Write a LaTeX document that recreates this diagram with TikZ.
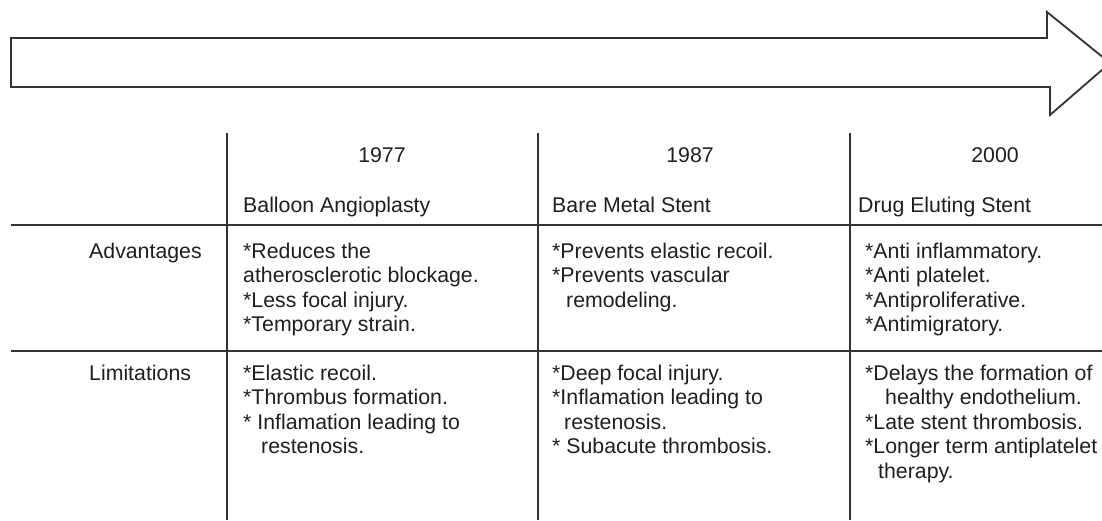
\documentclass[tikz,border=0pt]{standalone}
\usepackage{fontspec}
\setmainfont{Liberation Sans}
\tikzset{
  txt/.style={inner sep=0pt, anchor=base west, font=\fontsize{21.3}{24.6}\selectfont, text=black!88},
  ctr/.style={txt, anchor=base},
  rulebar/.style={line width=2pt, draw=black!80},
  bigarrow/.style={line width=1.8pt, draw=black!80, line join=miter, fill=white}
}
\begin{document}
\begin{tikzpicture}[x=1pt,y=-1pt]
\useasboundingbox (0,0) rectangle (1102,520);
\clip (0,0) rectangle (1102,520);
% timeline arrow
\draw[bigarrow] (11,38) -- (1047,38) -- (1047,12) -- (1110,63) -- (1050,115) -- (1050,87) -- (11,87) -- cycle;
% table rules
\coordinate (v1t) at (227,133); \coordinate (v1b) at (227,520);
\coordinate (v2t) at (538,133); \coordinate (v2b) at (538,520);
\coordinate (v3t) at (850,133); \coordinate (v3b) at (850,520);
\coordinate (h1l) at (11,225); \coordinate (h1r) at (1102,225);
\coordinate (h2l) at (11,351); \coordinate (h2r) at (1102,351);
\draw[rulebar] (v1t) -- (v1b);
\draw[rulebar] (v2t) -- (v2b);
\draw[rulebar] (v3t) -- (v3b);
\draw[rulebar] (h1l) -- (h1r);
\draw[rulebar] (h2l) -- (h2r);
% headers
\node[ctr] (y1) at (382,162) {1977};
\node[ctr] (y2) at (690,162) {1987};
\node[ctr] (y3) at (995,162) {2000};
\node[txt] (t1) at (243,212) {Balloon Angioplasty};
\node[txt] (t2) at (552,212) {Bare Metal Stent};
\node[txt] (t3) at (858,212) {Drug Eluting Stent};
% row labels
\node[txt] (adv) at (89,258) {Advantages};
\node[txt] (lim) at (89,380) {Limitations};
% advantages
\node[txt] (a11) at (243,258) {*Reduces the};
\node[txt] (a12) at (243,282.6) {atherosclerotic blockage.};
\node[txt] (a13) at (243,307.2) {*Less focal injury.};
\node[txt] (a14) at (243,331.8) {*Temporary strain.};
\node[txt] (a21) at (552,258) {*Prevents elastic recoil.};
\node[txt] (a22) at (552,282.6) {*Prevents vascular};
\node[txt] (a23) at (566,307.2) {remodeling.};
\node[txt] (a31) at (865,258) {*Anti inflammatory.};
\node[txt] (a32) at (865,282.6) {*Anti platelet.};
\node[txt] (a33) at (865,307.2) {*Antiproliferative.};
\node[txt] (a34) at (865,331.8) {*Antimigratory.};
% limitations
\node[txt] (l11) at (243,380) {*Elastic recoil.};
\node[txt] (l12) at (243,404.6) {*Thrombus formation.};
\node[txt] (l13) at (243,429.2) {* Inflamation leading to};
\node[txt] (l14) at (261,453.8) {restenosis.};
\node[txt] (l21) at (552,380) {*Deep focal injury.};
\node[txt] (l22) at (552,404.6) {*Inflamation leading to};
\node[txt] (l23) at (564,429.2) {restenosis.};
\node[txt] (l24) at (552,453.8) {* Subacute thrombosis.};
\node[txt] (l31) at (865,380) {*Delays the formation of};
\node[txt] (l32) at (885,404.6) {healthy endothelium.};
\node[txt] (l33) at (865,429.2) {*Late stent thrombosis.};
\node[txt] (l34) at (865,453.8) {*Longer term antiplatelet};
\node[txt] (l35) at (878,478.4) {therapy.};
\end{tikzpicture}
\end{document}
